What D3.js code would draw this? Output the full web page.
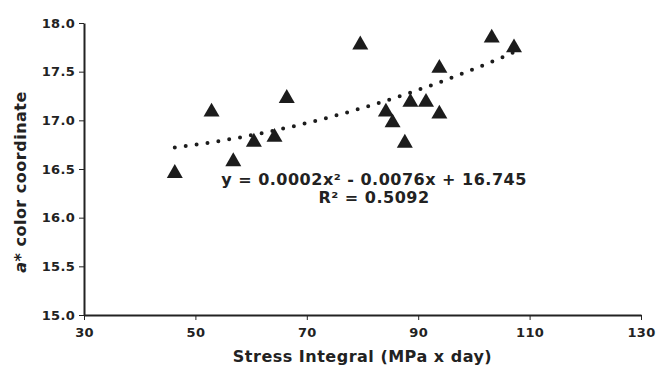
<!DOCTYPE html>
<html>
<head>
<meta charset="utf-8">
<script src="https://cdn.jsdelivr.net/npm/d3@7"></script>
<style>
  html, body { margin: 0; padding: 0; background: #fff; }
  svg text { font-family: "DejaVu Sans", Verdana, sans-serif; font-weight: bold; fill: #222; }
</style>
</head>
<body>
<div id="chart"></div>
<script>
// stress integral (MPa x day) vs a* colour coordinate
const stressIntegral = [46.3, 52.9, 56.8, 60.5, 64.2, 66.4, 79.6, 84.2, 85.4, 87.6, 88.6, 91.4, 93.8, 93.8, 103.2, 107.2];
const aStar = [16.48, 17.11, 16.60, 16.80, 16.85, 17.25, 17.80, 17.11, 17.00, 16.79, 17.21, 17.21, 17.56, 17.09, 17.87, 17.77];
const xTicks = [30, 50, 70, 90, 110, 130];
const yTicks = [15.0, 15.5, 16.0, 16.5, 17.0, 17.5, 18.0];
const equationLines = ["y = 0.0002x\u00B2 - 0.0076x + 16.745", "R\u00B2 = 0.5092"];

const W = 659, H = 367;
const margin = { top: 23, right: 18, bottom: 52, left: 84 },
      width = W - margin.left - margin.right,
      height = H - margin.top - margin.bottom;

const svg = d3.select("#chart").append("svg")
    .attr("width", W)
    .attr("height", H);

const g = svg.append("g")
    .attr("transform", `translate(${margin.left},${margin.top})`);

const x = d3.scaleLinear().domain([30, 130]).range([0, width]);
const y = d3.scaleLinear().domain([15, 18]).range([height, 0]);

const data = stressIntegral.map((v, i) => ({ x: v, y: aStar[i] }));

// polynomial (order 2) trendline, least squares like the spreadsheet does
function quadFit(pts) {
    let s = [0, 0, 0, 0, 0], t = [0, 0, 0];
    pts.forEach(p => {
        for (let k = 0; k < 5; k++) s[k] += Math.pow(p.x, k);
        for (let k = 0; k < 3; k++) t[k] += p.y * Math.pow(p.x, k);
    });
    const A = [[s[0], s[1], s[2], t[0]], [s[1], s[2], s[3], t[1]], [s[2], s[3], s[4], t[2]]];
    for (let i = 0; i < 3; i++) {
        for (let j = i + 1; j < 3; j++) {
            const f = A[j][i] / A[i][i];
            for (let k = i; k < 4; k++) A[j][k] -= f * A[i][k];
        }
    }
    const c = [0, 0, 0];
    for (let i = 2; i >= 0; i--) {
        let sum = A[i][3];
        for (let k = i + 1; k < 3; k++) sum -= A[i][k] * c[k];
        c[i] = sum / A[i][i];
    }
    return v => c[0] + c[1] * v + c[2] * v * v;
}
const fit = quadFit(data);
const [xMin, xMax] = d3.extent(stressIntegral);
const trend = d3.range(0, 61).map(i => {
    const v = xMin + (xMax - xMin) * i / 60;
    return { x: v, y: fit(v) };
});

g.append("path")
    .datum(trend)
    .attr("fill", "none")
    .attr("stroke", "#1c1c1c")
    .attr("stroke-width", 4)
    .attr("stroke-linecap", "round")
    .attr("stroke-dasharray", "0 11")
    .attr("d", d3.line().x(d => x(d.x)).y(d => y(d.y)));

// triangles (shifted so the box centre sits on the value, like Excel markers)
const triSide = 16;
const triH = triSide * Math.sqrt(3) / 2;
g.selectAll(".tri")
    .data(data)
    .enter()
    .append("path")
    .attr("class", "tri")
    .attr("d", d3.symbol(d3.symbolTriangle, Math.sqrt(3) / 4 * triSide * triSide))
    .attr("transform", d => `translate(${x(d.x)},${y(d.y) + triH / 6})`)
    .attr("fill", "#1c1c1c");

// axes
const xAxis = g.append("g")
    .attr("transform", `translate(0,${height})`)
    .call(d3.axisBottom(x).tickValues(xTicks).tickSize(5).tickSizeOuter(0).tickPadding(8));
const yAxis = g.append("g")
    .call(d3.axisLeft(y).tickValues(yTicks).tickSize(5).tickSizeOuter(0).tickPadding(4).tickFormat(d3.format(".1f")));

[xAxis, yAxis].forEach(ax => {
    ax.attr("font-family", null).attr("font-size", null);
    ax.select(".domain").attr("stroke", "#222").attr("stroke-width", 2);
    ax.selectAll(".tick line").attr("stroke", "#222").attr("stroke-width", 1);
    ax.selectAll(".tick text")
        .style("font-size", "13px")
        .style("font-weight", "bold")
        .style("letter-spacing", "0.3px")
        .attr("fill", "#222");
});

// axis titles
svg.append("text")
    .attr("x", margin.left + width / 2)
    .attr("y", 362)
    .attr("text-anchor", "middle")
    .style("font-size", "16px")
    .style("letter-spacing", "0.5px")
    .text("Stress Integral (MPa x day)");

const yTitle = svg.append("text")
    .attr("transform", "translate(26,182) rotate(-90)")
    .attr("text-anchor", "middle")
    .style("font-size", "16px")
    .style("letter-spacing", "0.5px");
yTitle.append("tspan").style("font-style", "italic").text("a");
yTitle.append("tspan").text("* color coordinate");

// trendline label
const eq = svg.append("text")
    .attr("text-anchor", "middle")
    .style("font-size", "16px")
    .style("letter-spacing", "0.5px");
equationLines.forEach((t, i) => {
    eq.append("tspan")
        .attr("x", 374)
        .attr("y", 185 + i * 18)
        .text(t);
});
</script>
</body>
</html>
